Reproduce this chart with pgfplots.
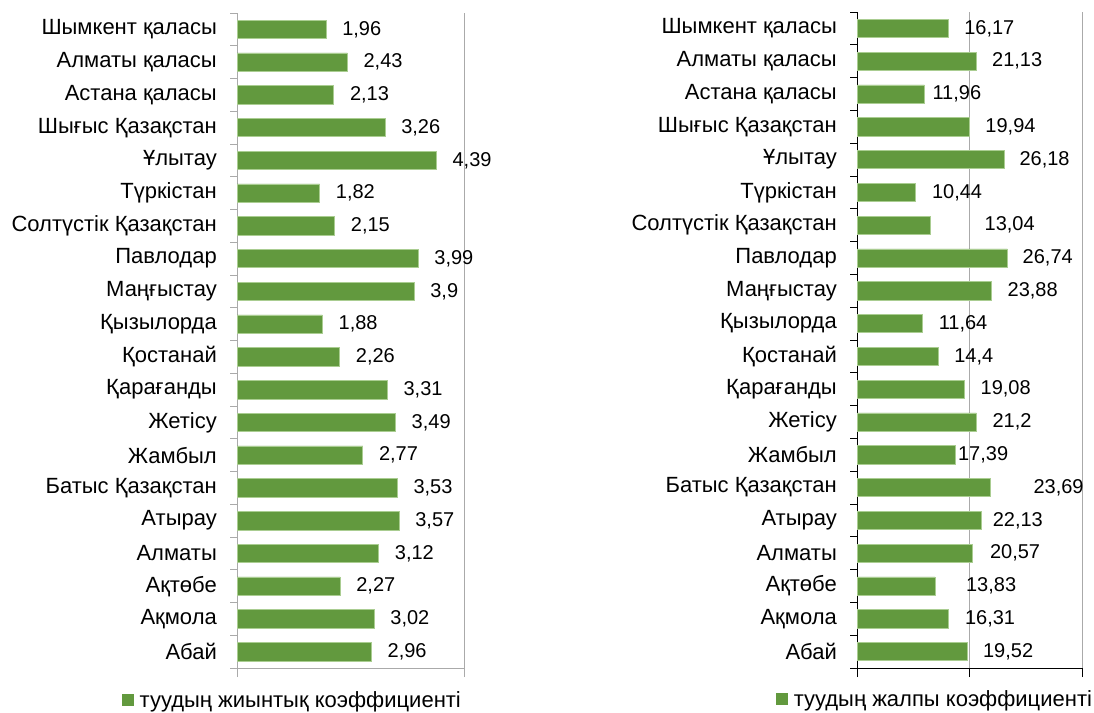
\documentclass[border=0pt]{standalone}
\usepackage{pgfplots}
\pgfplotsset{compat=1.18}
\usepackage{pgfplotstable}
\usepackage{fontspec}
\setmainfont{Liberation Sans}
\definecolor{barfill}{RGB}{98,153,62}
\definecolor{baredge}{RGB}{170,205,145}
\definecolor{gridgray}{RGB}{170,170,170}

% idx: row from top, val: value, dx: gap from bar end to label (bp)
\pgfplotstableread{
idx val dx
0 1.96 16
1 2.43 16
2 2.13 16
3 3.26 16
4 4.39 16
5 1.82 16
6 2.15 16
7 3.99 16
8 3.90 16
9 1.88 16
10 2.26 16
11 3.31 16
12 3.49 16
13 2.77 16
14 3.53 16
15 3.57 16
16 3.12 16
17 2.27 16
18 3.02 16
19 2.96 16
}\lefttable

\pgfplotstableread{
idx val dx
0 16.17 16
1 21.13 16
2 11.96 8
3 19.94 16
4 26.18 15
5 10.44 16
6 13.04 54
7 26.74 15
8 23.88 16
9 11.64 16
10 14.40 16
11 19.08 16
12 21.20 16
13 17.39 3
14 23.69 43
15 22.13 11
16 20.57 17
17 13.83 31
18 16.31 16
19 19.52 16
}\righttable

\pgfplotsset{
  regbars/.style={
    xbar, scale only axis, clip=false,
    y dir=reverse, ymin=-0.5, ymax=19.5, xmin=0,
    bar width=0.56,
    ytick={0,...,19},
    minor ytick={-0.5,0.5,...,19.5},
    yticklabels={Шымкент қаласы, Алматы қаласы, Астана қаласы, Шығыс Қазақстан, Ұлытау, Түркістан, Солтүстік Қазақстан, Павлодар, Маңғыстау, Қызылорда, Қостанай, Қарағанды, Жетісу, Жамбыл, Батыс Қазақстан, Атырау, Алматы, Ақтөбе, Ақмола, Абай},
    xticklabels={},
    axis x line*=bottom, axis y line*=left,
    tick align=outside,
    major tick length=9bp, minor tick length=7bp,
    major y tick style={draw=none},
    xmajorgrids, grid style={gridgray, line width=0.8bp},
    yticklabel style={inner sep=0pt, xshift=-11bp, font=\fontsize{22bp}{26bp}\selectfont},
    nodes near coords={\pgfmathprintnumber[use comma,assume math mode=true]{\pgfplotspointmeta}},
    visualization depends on={\thisrow{dx} \as \dx},
    every node near coord/.append style={anchor=west, inner sep=0pt, xshift=\dx bp, text=black, font=\fontsize{20bp}{24bp}\selectfont},
    legend style={draw=none, fill=none, inner sep=0pt, font=\fontsize{22bp}{26bp}\selectfont, legend cell align=left},
    legend image code/.code={\fill[barfill] (0bp,-5.5bp) rectangle (11bp,5.5bp);},
  }
}

\begin{document}
\begin{tikzpicture}
\useasboundingbox (0,0) rectangle (1094bp,713bp);

\begin{axis}[regbars,
  at={(237bp,45bp)}, anchor=south west,
  width=227bp, height=655bp,
  xmax=5, xtick={0,5},
  axis line style={gridgray, line width=0.8bp},
  tick style={gridgray, line width=0.8bp},
  legend style={at={(axis description cs:-0.507,-0.049)}, anchor=west}]
  \addplot[fill=barfill, draw=baredge, line width=0.6bp] table[x=val, y=idx] {\lefttable};
  \addlegendentry{\hspace*{4bp}туудың жиынтық коэффициенті}
\end{axis}

\begin{axis}[regbars,
  at={(857bp,45bp)}, anchor=south west,
  width=225bp, height=656bp,
  xmax=40, xtick={0,20,40},
  axis line style={black, line width=0.8bp},
  tick style={black, line width=0.8bp},
  legend style={at={(axis description cs:-0.36,-0.047)}, anchor=west}]
  \addplot[fill=barfill, draw=baredge, line width=0.6bp] table[x=val, y=idx] {\righttable};
  \addlegendentry{\hspace*{4bp}туудың жалпы коэффициенті}
\end{axis}
\end{tikzpicture}
\end{document}
